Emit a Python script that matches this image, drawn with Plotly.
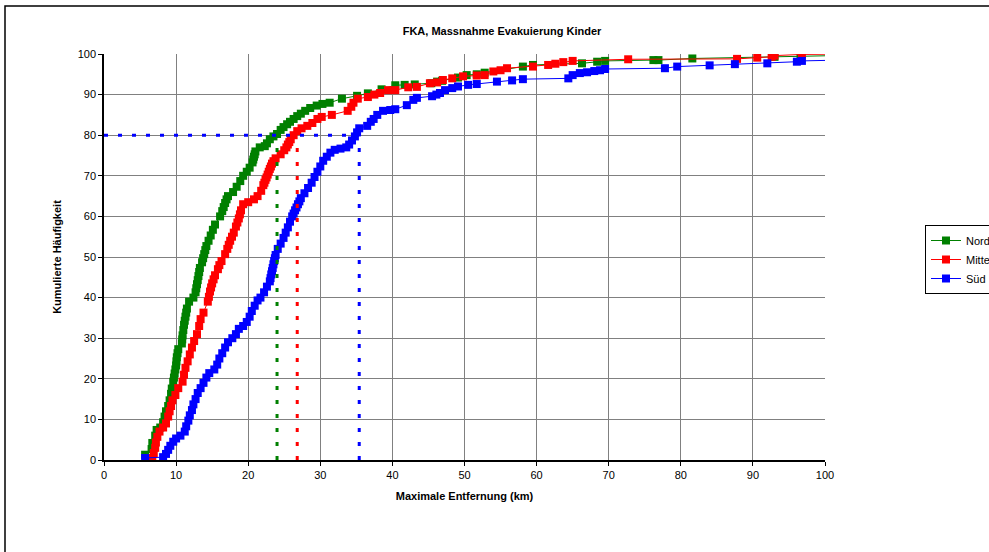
import plotly.graph_objects as go

# ---------------- data ----------------
nord_x = [5.7, 6.6, 6.7, 7.1, 7.3, 7.8, 8.2, 8.4, 8.6, 8.9, 9.1, 9.3, 9.4, 9.6, 9.8, 10.0, 10.1, 10.3,
          10.8, 10.9, 11.1, 11.3, 11.5, 11.8, 12.4, 12.7, 12.9, 13.1, 13.3, 13.6, 13.9, 14.2, 14.5, 14.8,
          15.1, 15.4, 16.1, 16.4, 16.8, 17.2, 17.9, 18.4, 18.9, 19.3, 19.8, 20.2, 20.6, 20.8, 21.0, 21.6,
          22.3, 22.6, 23.0, 23.5, 24.0, 24.5, 24.9, 25.4, 25.8, 26.3, 26.8, 27.3, 27.9, 28.6, 29.5, 30.3,
          31.3, 33.0, 35.1, 36.6, 38.5, 40.4, 41.7, 43.1, 45.4, 46.2, 46.9, 49.1, 50.3, 51.7, 52.8, 58.1,
          59.5, 66.3, 68.4, 69.5, 76.2, 76.9, 81.6, 93.0, 96.6, 104.0,
          9.7, 9.9, 10.05, 10.2, 10.85, 11.0, 11.2, 11.4, 12.8, 13.0, 13.2, 13.75, 14.05, 16.6, 17.0,
          20.7, 20.9]
nord_y = [1.3, 2.7, 4.2, 6.0, 7.4, 8.0, 9.3, 10.7, 12.0, 13.3, 14.7, 16.3, 17.6, 19.3, 21.3, 23.3, 25.3, 27.3,
          28.7, 30.7, 33.3, 35.3, 37.3, 39.0, 40.0, 41.3, 43.3, 45.3, 47.3, 48.7, 50.7, 52.7, 54.0, 55.3,
          56.7, 58.0, 60.0, 61.3, 63.3, 65.0, 66.0, 67.3, 68.7, 70.0, 71.0, 72.0, 73.3, 74.7, 76.0, 77.0,
          77.3, 78.0, 79.0, 79.7, 80.3, 81.3, 82.0, 82.7, 83.3, 84.0, 84.7, 85.3, 86.0, 86.7, 87.3, 87.7,
          88.0, 89.0, 89.7, 90.3, 91.3, 92.3, 92.4, 92.5, 92.8, 93.2, 93.4, 94.2, 94.8, 95.0, 95.4, 96.9,
          97.3, 97.7, 98.1, 98.3, 98.5, 98.5, 98.9, 99.3, 99.5, 99.7,
          20.3, 22.3, 24.3, 26.3, 29.7, 32.0, 34.3, 36.3, 42.3, 44.3, 46.3, 49.7, 51.7, 62.3, 64.2,
          74.0, 75.3]

mitte_x = [6.7, 6.9, 7.1, 7.2, 7.4, 7.7, 8.2, 8.6, 8.9, 9.1, 9.3, 9.5, 9.9, 10.3, 10.9, 11.1, 11.3, 11.6,
           11.9, 12.2, 12.5, 12.9, 13.2, 13.4, 13.8, 14.4, 14.7, 15.0, 15.4, 15.8, 16.3, 16.8, 17.1, 17.5,
           18.0, 18.3, 18.7, 19.0, 19.3, 20.0, 20.8, 21.3, 21.8, 22.1, 22.4, 22.7, 23.0, 23.3, 23.8, 24.5,
           25.0, 25.5, 25.9, 26.3, 26.8, 27.4, 28.2, 28.9, 29.6, 30.2, 31.6, 33.8, 34.3, 34.6, 35.2, 36.6,
           37.5, 38.3, 39.4, 40.4, 42.2, 43.4, 45.2, 46.2, 47.0, 48.3, 49.8, 51.7, 52.8, 54.0, 55.0, 55.9,
           59.5, 61.6, 62.6, 63.7, 65.0, 72.7, 87.8, 90.6, 92.6, 93.0, 96.8, 104.0,
           14.55, 14.85, 15.2, 16.0, 17.3, 17.75, 18.5, 18.85, 22.25, 22.55, 22.85, 23.15, 23.5, 25.3, 25.7]
mitte_y = [0.5, 1.7, 3.0, 4.3, 5.7, 7.0, 8.0, 9.0, 10.7, 12.0, 13.3, 14.7, 16.0, 17.7, 19.3, 21.0, 22.7, 24.3,
           26.0, 27.7, 29.3, 31.0, 33.0, 34.7, 36.3, 39.0, 41.5, 43.5, 45.5, 47.0, 49.0, 50.7, 52.0, 54.0,
           56.0, 57.5, 59.5, 61.5, 63.0, 63.5, 64.2, 65.0, 66.3, 67.7, 69.0, 70.3, 71.7, 73.0, 74.3, 75.3,
           76.3, 77.7, 79.0, 80.0, 81.0, 81.7, 82.3, 83.0, 84.0, 84.5, 85.0, 86.0, 87.0, 88.0, 89.0, 89.4,
           90.0, 90.4, 91.1, 91.1, 91.8, 91.9, 92.8, 93.0, 93.6, 94.0, 94.5, 94.7, 94.8, 95.7, 96.0, 96.5,
           96.9, 97.3, 97.6, 98.0, 98.3, 98.7, 98.8, 99.1, 99.3, 99.6, 99.9, 100.0,
           40.2, 42.5, 44.5, 48.0, 53.0, 55.0, 58.5, 60.5, 68.3, 69.6, 71.0, 72.3, 73.6, 77.0, 78.3]

sued_x = [5.7, 8.2, 8.6, 8.9, 9.2, 9.6, 10.0, 10.6, 11.2, 11.4, 11.7, 11.9, 12.2, 12.4, 12.7, 13.0, 13.4, 13.8,
          14.2, 14.6, 15.3, 15.7, 16.0, 16.4, 16.8, 17.2, 17.8, 18.3, 18.7, 19.3, 19.8, 20.2, 20.5, 20.9,
          21.3, 21.7, 22.2, 22.6, 23.0, 23.2, 23.4, 23.6, 23.8, 24.1, 24.5, 24.9, 25.2, 25.5, 25.8, 26.1,
          26.5, 26.9, 27.3, 27.8, 28.3, 28.8, 29.2, 29.6, 30.0, 30.4, 30.9, 31.4, 32.0, 32.8, 33.6, 34.0,
          34.4, 34.8, 35.1, 35.4, 36.5, 37.0, 37.4, 37.9, 38.7, 39.7, 40.4, 42.0, 42.9, 43.4, 45.5, 46.1,
          46.6, 47.3, 48.3, 49.1, 50.5, 51.7, 54.5, 56.6, 58.1, 64.4, 65.0, 66.0, 67.0, 68.0, 68.8, 69.5,
          77.8, 79.5, 84.0, 87.5, 92.0, 96.1, 96.8, 105.0,
          23.1, 23.3, 23.5, 23.7, 26.3, 26.7, 27.1]
sued_y = [0.5, 0.7, 1.5, 2.5, 3.5, 4.5, 5.3, 6.0, 7.0, 8.3, 9.7, 11.0, 12.3, 13.7, 15.0, 16.5, 17.7, 19.0,
          20.3, 21.4, 22.3, 23.5, 25.0, 26.3, 27.7, 29.0, 30.0, 31.0, 32.3, 33.0, 34.0, 35.3, 36.7, 38.0,
          39.3, 40.0, 41.3, 42.7, 44.0, 45.7, 47.3, 49.0, 50.5, 52.0, 53.3, 54.7, 56.0, 57.3, 58.7, 60.0,
          61.5, 63.0, 64.5, 65.7, 67.0, 68.3, 69.7, 71.0, 72.3, 73.7, 74.7, 75.7, 76.4, 76.7, 77.0, 77.7,
          78.7, 79.7, 80.7, 81.7, 82.3, 83.3, 84.0, 85.0, 86.0, 86.2, 86.4, 87.4, 88.7, 89.2, 89.6, 90.0,
          90.4, 91.1, 91.6, 92.0, 92.4, 92.6, 93.2, 93.5, 93.8, 94.0, 94.8, 95.3, 95.5, 95.8, 96.0, 96.3,
          96.5, 96.9, 97.2, 97.5, 97.7, 98.1, 98.3, 98.6,
          44.8, 46.5, 48.2, 49.7, 60.7, 62.2, 63.7]

series_names = ["Nord", "Mitte", "Süd"]
series_colors = ["#008000", "#FF0000", "#0000FF"]

ref_level = 80               # 80 % level
ref_x = [24.0, 26.8, 35.4]   # distance where each series reaches 80 %
ref_vtop = 77                # vertical dotted lines end here in the original

x_ticks = list(range(0, 101, 10))
y_ticks = list(range(0, 101, 10))


def ordered(xs, ys):
    pairs = sorted(zip(xs, ys), key=lambda p: (p[1], p[0]))
    return [p[0] for p in pairs], [p[1] for p in pairs]


# ---------------- figure ----------------
FONT = "Arial, 'Liberation Sans', sans-serif"
fig = go.Figure()
for name, xs, ys, col in zip(series_names, [nord_x, mitte_x, sued_x], [nord_y, mitte_y, sued_y], series_colors):
    sx, sy = ordered(xs, ys)
    fig.add_trace(go.Scatter(
        x=sx, y=sy, name=name, mode="lines+markers",
        line=dict(color=col, width=1),
        marker=dict(symbol="square", size=8, color=col, line=dict(width=0)),
    ))

dash = "4px,10px"
fig.add_shape(type="line", xref="x", yref="y", x0=0, x1=ref_x[2], y0=ref_level, y1=ref_level,
              line=dict(color=series_colors[2], width=3, dash=dash))
for xv, col in zip(ref_x, series_colors):
    fig.add_shape(type="line", xref="x", yref="y", x0=xv, x1=xv, y0=0, y1=ref_vtop,
                  line=dict(color=col, width=3, dash=dash))

# outer chart frame (extends beyond the window like the original)
L, R, T, B = 104, 825, 54, 460
def px2paper_x(p): return (p - L) / (R - L)
def px2paper_y(p): return (B - p) / (B - T)
fig.add_shape(type="rect", xref="paper", yref="paper",
              x0=px2paper_x(5), x1=px2paper_x(1000), y0=px2paper_y(565), y1=px2paper_y(6),
              line=dict(color="black", width=1.5), fillcolor="rgba(0,0,0,0)")

axis_common = dict(
    showgrid=True, gridcolor="#808080", gridwidth=1,
    showline=True, linecolor="black", linewidth=1.5,
    ticks="outside", ticklen=4, tickcolor="black", tickwidth=1,
    tickfont=dict(family=FONT, size=11, color="black"),
    zeroline=False,
)
fig.update_xaxes(range=[0, 100], tickvals=x_ticks, ticktext=[str(v) for v in x_ticks],
                 title=dict(text="<b>Maximale Entfernung (km)</b>", font=dict(family=FONT, size=11, color="black"),
                            standoff=12),
                 **axis_common)
fig.update_yaxes(range=[0, 100], tickvals=y_ticks, ticktext=[str(v) for v in y_ticks],
                 title=dict(text="<b>Kumulierte Häufigkeit</b>", font=dict(family=FONT, size=11, color="black"),
                            standoff=14),
                 **axis_common)

fig.update_layout(
    width=989, height=552,
    margin=dict(l=L, r=989 - R, t=T, b=552 - B, autoexpand=False),
    paper_bgcolor="white", plot_bgcolor="white",
    font=dict(family=FONT, size=11, color="black"),
    title=dict(text="<b>FKA, Massnahme Evakuierung Kinder</b>", x=502 / 989, xref="container",
               xanchor="center", y=1 - 31 / 552, yref="container", yanchor="middle",
               font=dict(family=FONT, size=11, color="black")),
    legend=dict(x=925 / 989, xref="container", xanchor="left", y=1 - 225 / 552, yref="container",
                yanchor="top", bordercolor="black", borderwidth=1, bgcolor="white",
                font=dict(family=FONT, size=11, color="black"), itemwidth=30, tracegroupgap=0),
    showlegend=True,
)

fig.write_html("out.html")
